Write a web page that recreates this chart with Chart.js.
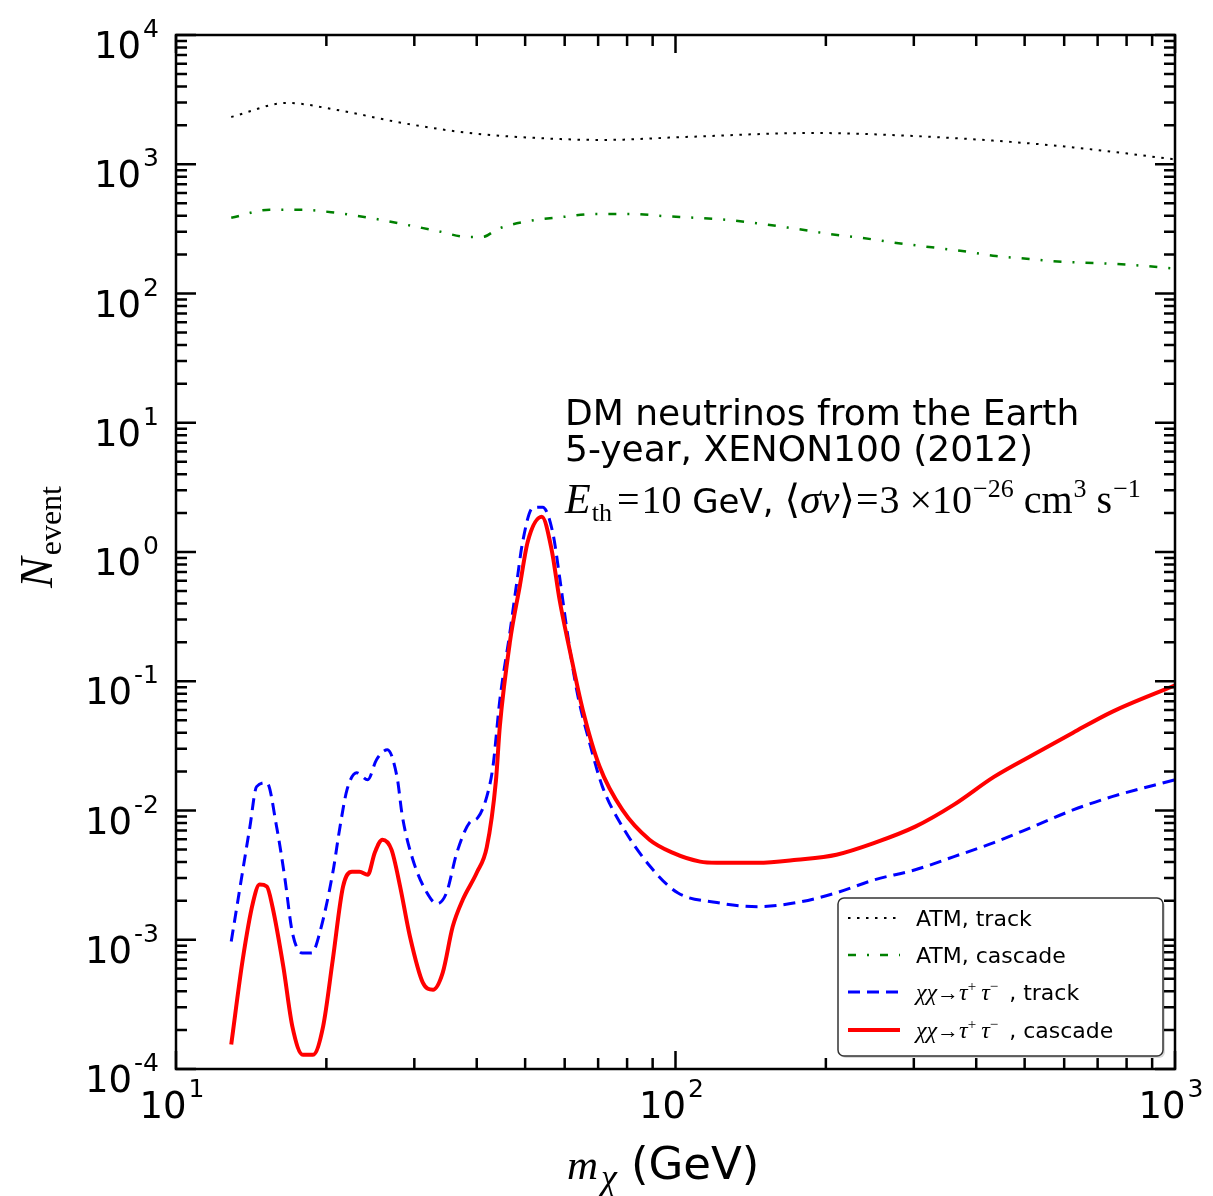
<!DOCTYPE html>
<html>
<head>
<meta charset="utf-8">
<script src="https://cdn.jsdelivr.net/npm/chart.js@4.4.1/dist/chart.umd.min.js"></script>
<style>
  html, body { margin: 0; padding: 0; background: #fff; }
  #wrap { width: 1213px; height: 1196px; }
</style>
</head>
<body>
<div id="wrap"><canvas id="chart" width="1213" height="1196"></canvas></div>
<script>
// ===== data (mass in GeV, number of events) =====
const atmTrackMass = [12.9, 16.7, 21.0, 28.4, 38.7, 52.7, 71.4, 105, 188, 298, 472, 643, 1000];
const atmTrackN    = [2320, 2980, 2630, 2085, 1745, 1597, 1541, 1627, 1745, 1656, 1487, 1336, 1090];

const atmCascadeMass = [12.9, 15.4, 17.9, 21.0, 24.4, 28.4, 33.3, 38.4, 41.1, 44.1, 51.1, 59.4, 69.5, 80.9, 94.2,
                        102, 128, 149, 175, 203, 237, 277, 322, 375, 438, 511, 594, 695, 809, 1000];
const atmCascadeN    = [385, 444, 444, 420, 385, 345, 305, 274, 274, 316, 365, 391, 413, 413, 398,
                        391, 370, 345, 316, 289, 269, 246, 229, 213, 195, 185, 176, 172, 167, 156];

const tauTrackMass = [12.9, 14.06, 14.5, 15.2, 15.9, 16.5, 17.1, 17.9, 18.7, 19.4, 20.6, 21.3, 22.0, 23.0, 24.2,
                      25.2, 26.5, 27.7, 28.4, 29.8, 31.8, 33.3, 34.8, 36.5, 38.7, 40.2, 41.9, 43.1, 44.5, 46.6,
                      48.1, 49.4, 51.8, 54.2, 56.8, 58.6, 60.5, 63.4, 67.3, 71.4, 78.3, 89.1, 101, 121, 146,
                      175, 210, 251, 302, 361, 434, 520, 625, 748, 1000];
const tauTrackN    = [9.7e-4, 7.5e-3, 0.0153, 0.0164, 7.5e-3, 3.08e-3, 1.135e-3, 7.9e-4, 7.9e-4, 1.135e-3, 3.3e-3, 7.5e-3, 0.0145, 0.0196, 0.0173,
                      0.0247, 0.0295, 0.0182, 8.95e-3, 4.16e-3, 2.31e-3, 1.9e-3, 2.31e-3, 4.72e-3, 8.05e-3, 8.8e-3, 0.0128, 0.0218, 0.072, 0.237,
                      0.578, 1.18, 2.2, 2.22, 1.41, 0.643, 0.264, 0.0859, 0.0334, 0.0153, 7.5e-3, 3.67e-3, 2.31e-3, 1.94e-3, 1.8e-3,
                      1.94e-3, 2.31e-3, 2.92e-3, 3.48e-3, 4.4e-3, 5.64e-3, 7.5e-3, 0.0101, 0.0128, 0.0173];

const tauCascadeMass = [12.9, 13.6, 14.26, 14.7, 15.2, 15.6, 16.4, 17.1, 17.95, 18.8, 19.7, 20.6, 21.6, 22.5, 23.3,
                        24.2, 25.0, 25.9, 27.0, 28.1, 29.4, 31.2, 32.7, 34.2, 35.8, 37.5, 40.0, 41.9, 43.7, 44.5,
                        46.6, 48.8, 50.6, 54.0, 56.5, 58.6, 61.4, 65.2, 70.5, 78.3, 88.7, 98.6, 112, 121, 146,
                        175, 210, 251, 302, 361, 434, 520, 625, 748, 1000];
const tauCascadeN    = [1.55e-4, 7.0e-4, 1.94e-3, 2.67e-3, 2.58e-3, 1.8e-3, 6.2e-4, 2.13e-4, 1.29e-4, 1.29e-4, 2.13e-4, 7.0e-4, 2.58e-3, 3.36e-3, 3.36e-3,
                        3.18e-3, 4.72e-3, 5.94e-3, 4.98e-3, 2.58e-3, 1.06e-3, 4.66e-4, 4.11e-4, 5.57e-4, 1.26e-3, 2.04e-3, 3.3e-3, 5.2e-3, 0.017, 0.045,
                        0.2, 0.55, 1.2, 1.87, 1.04, 0.427, 0.175, 0.0603, 0.0218, 0.0101, 5.94e-3, 4.72e-3, 4.02e-3, 3.94e-3, 3.94e-3,
                        4.16e-3, 4.55e-3, 5.64e-3, 7.5e-3, 0.0111, 0.0182, 0.027, 0.04, 0.058, 0.093];

const xDecades = [1, 2, 3];          // 10^1 .. 10^3
const yDecades = [-4, -3, -2, -1, 0, 1, 2, 3, 4];

const SANS = '"DejaVu Sans", "Liberation Sans", sans-serif';
const SERIF = '"Liberation Serif", "DejaVu Serif", serif';

const pts = (xs, ys) => xs.map((x, i) => ({ x: x, y: ys[i] }));

// draws a list of [text, font, dy, extraGap] pieces one after the other, returns width
function rich(ctx, segs, x, y, measureOnly) {
  let cx = x;
  segs.forEach(s => {
    ctx.font = s[1];
    if (!measureOnly) ctx.fillText(s[0], cx, y + (s[2] || 0));
    cx += ctx.measureText(s[0]).width + (s[3] || 0);
  });
  return cx - x;
}

function powLabel(n) {
  return [["10", "37px " + SANS, 0, 2], [String(n), "25px " + SANS, -21]];
}

const decor = {
  id: "decor",
  afterDatasetsDraw(chart) {
    const ctx = chart.ctx;
    const a = chart.chartArea;
    const xs = chart.scales.x, ys = chart.scales.y;
    ctx.save();
    ctx.fillStyle = "#000";
    ctx.strokeStyle = "#000";
    ctx.textBaseline = "alphabetic";

    // frame
    ctx.lineWidth = 2.5;
    ctx.strokeRect(a.left, a.top, a.right - a.left, a.bottom - a.top);

    // ticks, pointing inwards on all four sides
    const tick = (px, horiz, len) => {
      ctx.beginPath();
      if (horiz) {
        ctx.moveTo(px, a.bottom); ctx.lineTo(px, a.bottom - len);
        ctx.moveTo(px, a.top); ctx.lineTo(px, a.top + len);
      } else {
        ctx.moveTo(a.left, px); ctx.lineTo(a.left + len, px);
        ctx.moveTo(a.right, px); ctx.lineTo(a.right - len, px);
      }
      ctx.stroke();
    };
    xDecades.forEach(d => {
      tick(xs.getPixelForValue(Math.pow(10, d)), true, 18);
      if (d < 3) for (let k = 2; k < 10; k++) tick(xs.getPixelForValue(k * Math.pow(10, d)), true, 11);
    });
    yDecades.forEach(d => {
      tick(ys.getPixelForValue(Math.pow(10, d)), false, 20);
      if (d < 4) for (let k = 2; k < 10; k++) tick(ys.getPixelForValue(k * Math.pow(10, d)), false, 11);
    });

    // tick labels
    yDecades.forEach(d => {
      const py = ys.getPixelForValue(Math.pow(10, d));
      const segs = powLabel(d);
      const w = rich(ctx, segs, 0, 0, true);
      rich(ctx, segs, 159 - w, py + 23);
    });
    xDecades.forEach(d => {
      const px = xs.getPixelForValue(Math.pow(10, d));
      const segs = powLabel(d);
      const w = rich(ctx, segs, 0, 0, true);
      rich(ctx, segs, px - w / 2 - 4, a.bottom + 49);
    });

    // axis titles
    rich(ctx, [
      ["m", "italic 43px " + SERIF, 0, 3],
      ["\u03c7", "italic 36px " + SERIF, 10, 14],
      ["(GeV)", "45px " + SANS]
    ], 567, 1179);
    ctx.save();
    ctx.translate(52, 588);
    ctx.rotate(-Math.PI / 2);
    rich(ctx, [["N", "italic 46px " + SERIF, 0, 2], ["event", "32px " + SERIF, 9]], 0, 0);
    ctx.restore();

    // annotation
    ctx.font = "36px " + SANS;
    ctx.fillText("DM neutrinos from the Earth", 565, 425);
    ctx.fillText("5-year, XENON100 (2012)", 565, 461);
    const M = "40px " + SERIF, MI = "italic 42px " + SERIF, S = "26px " + SERIF;
    rich(ctx, [
      ["E", MI, 0, 1], ["th", S, 8, 5],
      ["=", M, 0, 2], ["10", M],
      [" GeV, ", "34px " + SANS],
      ["\u27e8", M], ["\u03c3v", MI], ["\u27e9", M, 0, 1],
      ["=", M, 0, 1], ["3", M], [" \u00d7", M], ["10", M, 0, 1],
      ["\u221226", S, -16],
      [" cm", M, 0, 1], ["3", S, -16],
      [" s", M, 0, 1], ["\u22121", S, -16]
    ], 565, 513);

    // legend
    const lx = 838, ly = 898, lw = 325, lh = 158;
    ctx.fillStyle = "rgba(0,0,0,0.15)";
    ctx.beginPath(); ctx.roundRect(lx + 2, ly + 2, lw, lh, 6); ctx.fill();
    ctx.fillStyle = "#fff";
    ctx.strokeStyle = "#333";
    ctx.lineWidth = 1.5;
    ctx.beginPath(); ctx.roundRect(lx, ly, lw, lh, 6); ctx.fill(); ctx.stroke();

    const tau = [["\u03c7\u03c7", "italic 24px " + SERIF], ["\u2192", "22px " + SERIF],
                 ["\u03c4", "italic 24px " + SERIF], ["+", "15px " + SERIF, -9, 5],
                 ["\u03c4", "italic 24px " + SERIF], ["\u2212", "15px " + SERIF, -9, 4]];
    const rows = [
      [0, [["ATM, track", "22px " + SANS]], 918],
      [1, [["ATM, cascade", "22px " + SANS]], 955],
      [2, tau.concat([[" , track", "22px " + SANS]]), 992],
      [3, tau.concat([[" , cascade", "22px " + SANS]]), 1030]
    ];
    rows.forEach(r => {
      const ds = chart.data.datasets[r[0]];
      ctx.save();
      ctx.strokeStyle = ds.borderColor;
      ctx.lineWidth = ds.borderWidth;
      ctx.setLineDash(ds.borderDash || []);
      ctx.beginPath(); ctx.moveTo(848, r[2]); ctx.lineTo(900, r[2]); ctx.stroke();
      ctx.restore();
      ctx.fillStyle = "#000";
      rich(ctx, r[1], 916, r[2] + 8);
    });
    ctx.restore();
  }
};

const common = { pointRadius: 0, fill: false, cubicInterpolationMode: "monotone" };

new Chart(document.getElementById("chart").getContext("2d"), {
  type: "line",
  data: {
    datasets: [
      Object.assign({ label: "ATM, track", data: pts(atmTrackMass, atmTrackN),
        borderColor: "#000000", borderWidth: 2, borderDash: [2.5, 6.5], order: 3 }, common),
      Object.assign({ label: "ATM, cascade", data: pts(atmCascadeMass, atmCascadeN),
        borderColor: "#008000", borderWidth: 2.5, borderDash: [8, 11, 2, 11], order: 2 }, common),
      Object.assign({ label: "\u03c7\u03c7\u2192\u03c4+\u03c4\u2212 , track", data: pts(tauTrackMass, tauTrackN),
        borderColor: "#0000ff", borderWidth: 3, borderDash: [12, 7], order: 1 }, common),
      Object.assign({ label: "\u03c7\u03c7\u2192\u03c4+\u03c4\u2212 , cascade", data: pts(tauCascadeMass, tauCascadeN),
        borderColor: "#ff0000", borderWidth: 4, order: 0 }, common)
    ]
  },
  options: {
    responsive: false,
    animation: false,
    devicePixelRatio: 1,
    layout: { padding: { left: 176, right: 38, top: 35, bottom: 127 } },
    plugins: { legend: { display: false }, tooltip: { enabled: false } },
    scales: {
      x: { type: "logarithmic", min: 10, max: 1000, display: false },
      y: { type: "logarithmic", min: 1e-4, max: 1e4, display: false }
    }
  },
  plugins: [decor]
});
</script>
</body>
</html>
